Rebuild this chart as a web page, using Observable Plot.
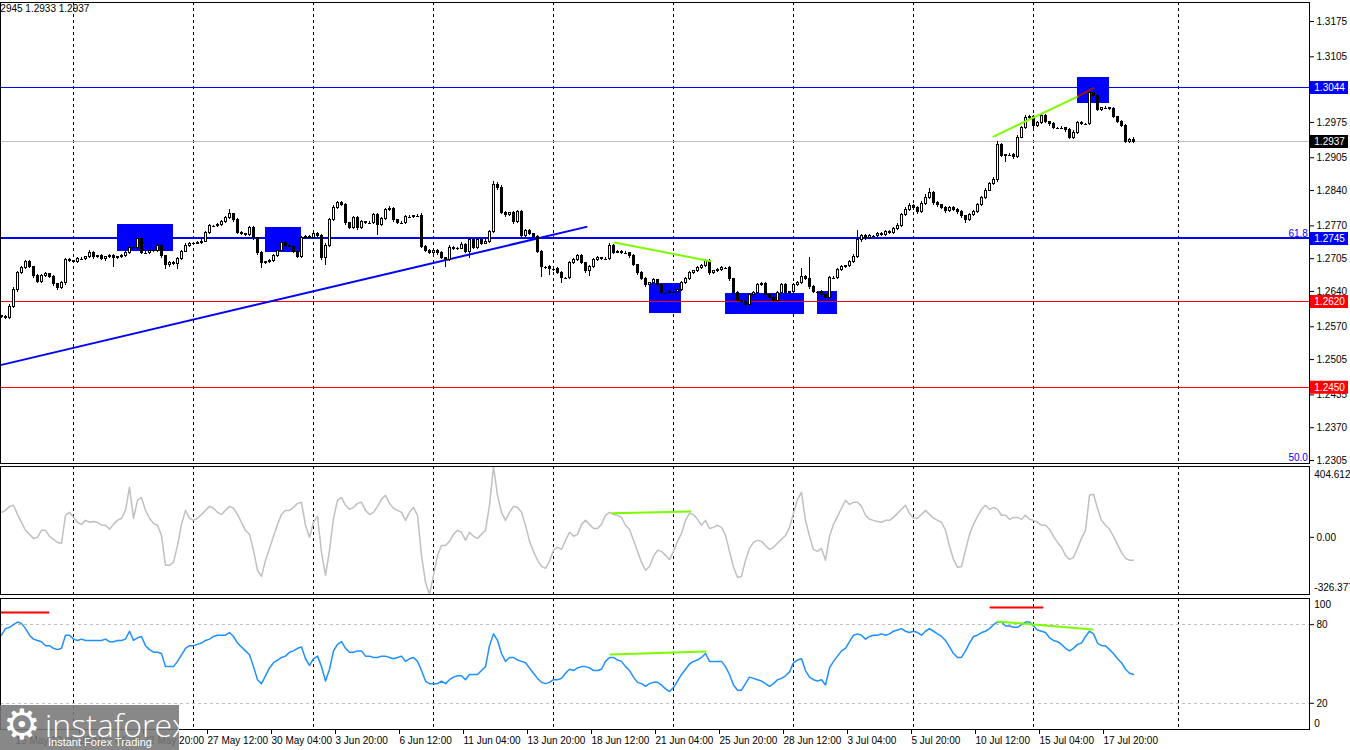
<!DOCTYPE html>
<html><head><meta charset="utf-8">
<script src="https://cdn.jsdelivr.net/npm/d3@7"></script>
<script src="https://cdn.jsdelivr.net/npm/@observablehq/plot@0.6"></script>
<style>
html,body{margin:0;padding:0;background:#fff;}
body{width:1350px;height:750px;overflow:hidden;position:relative;font-family:"Liberation Sans",Arial,sans-serif;}
.panel{position:absolute;left:0;}
#hdr{position:absolute;left:-8px;top:3px;font-size:10px;color:#000;white-space:nowrap;}
#logo{position:absolute;left:0;top:705px;width:179px;height:45px;background:rgba(120,120,120,0.88);color:#fff;overflow:hidden;}
#logo .gear{position:absolute;left:3px;top:-5px;font-size:42px;line-height:50px;font-family:"DejaVu Sans";}
#logo .name{position:absolute;left:45px;top:-2px;font-size:32px;font-family:"Open Sans","Liberation Sans";font-weight:300;}
#logo .sub{position:absolute;left:48px;top:31px;font-size:11px;font-family:"Liberation Sans";}
</style></head><body>
<div id="main" class="panel" style="top:0px"></div>
<div id="cci" class="panel" style="top:465px"></div>
<div id="rsi" class="panel" style="top:596px"></div>
<div id="hdr">1.2945 1.2933 1.2937</div>
<div id="logo"><span class="gear">⚙</span><span class="name">instaforex</span><span class="sub">Instant Forex Trading</span></div>
<script>
// ---- price data (pips above 1.2000), H4 bars ----
const BASE = 1.2;
const firstOpenPips = 591;
const closePips = [
589,587,610,642,676,686,698,688,670,658,670,674,668,654,646,656,702,700,698,704,
704,708,717,708,710,704,708,710,706,708,710,716,727,727,743,716,716,721,721,731,
710,692,696,694,704,719,731,735,735,737,739,755,769,769,771,777,785,793,781,755,
753,751,765,745,716,696,698,700,710,721,737,731,729,719,708,745,747,745,753,749,
706,731,781,805,815,811,775,765,785,765,777,775,775,791,771,783,801,803,781,775,
775,787,787,789,789,729,721,716,721,716,706,702,727,725,725,733,719,741,727,741,
735,739,757,850,846,795,791,795,777,797,749,759,753,747,719,688,688,684,684,676,
666,666,696,702,710,696,680,688,702,706,704,704,731,717,719,716,716,710,692,676,
664,652,656,662,652,636,636,638,638,642,656,664,676,680,686,690,700,676,680,682,
686,686,664,636,622,620,614,632,636,652,654,632,628,622,636,652,636,638,652,656,
668,664,648,638,638,632,628,666,666,682,688,690,698,708,741,749,745,749,749,753,
751,757,755,763,769,791,801,809,805,797,813,826,836,815,811,805,799,805,801,797,
789,781,791,797,811,825,840,852,860,930,908,910,910,906,945,963,983,985,967,973,
987,975,971,963,963,963,959,945,955,973,971,971,1033,1027,999,1003,1003,1001,985,975,
967,937,941,937];
const upWick = [
2,3,4,6,4,3,4,3,2,3,3,4,2,3,2,3,4,3,2,3,
3,2,4,3,2,3,2,3,4,2,3,3,8,2,10,6,3,2,3,4,
3,2,3,4,3,3,4,2,3,2,3,4,3,2,3,4,3,10,2,3,
3,2,4,3,2,3,2,3,4,3,3,4,2,3,2,4,3,3,4,3,
3,4,4,5,4,3,3,2,4,3,3,2,3,4,3,3,4,5,3,2,
3,4,3,2,3,6,3,2,3,2,3,2,4,3,2,4,3,6,3,4,
3,3,4,8,5,3,3,2,4,3,3,4,3,2,3,3,2,3,2,3,
3,2,4,3,4,3,2,3,4,3,2,3,4,3,2,3,3,2,3,2,
3,3,2,3,2,3,2,3,3,2,4,3,3,2,3,3,4,3,2,3,
3,2,3,2,3,2,3,4,3,4,3,3,2,3,4,3,3,2,4,3,
18,3,44,3,2,3,2,4,3,4,3,2,4,5,20,4,3,3,2,4,
3,4,3,4,5,4,5,6,3,3,5,6,8,3,3,2,3,4,3,3,
3,2,4,3,4,4,5,4,5,8,3,2,3,3,4,4,5,3,3,3,
4,3,2,3,2,3,2,3,3,4,3,2,11,4,3,2,3,2,3,2,
3,3,2,4];
const downWick = [
3,2,3,3,4,3,2,3,4,3,2,3,3,4,5,3,4,3,3,2,
3,3,2,4,3,3,4,3,18,3,3,2,3,3,4,3,3,2,3,3,
4,8,4,3,10,3,2,3,3,2,3,2,3,3,2,3,2,3,4,3,
3,3,2,4,4,10,3,3,2,3,2,3,3,4,3,2,3,3,2,3,
4,14,3,2,3,3,4,3,3,4,3,3,2,3,20,3,2,3,4,3,
3,2,3,3,2,3,4,3,3,4,3,14,3,3,3,2,4,14,3,3,
3,2,3,3,6,3,4,3,4,3,4,3,3,3,4,20,4,12,4,3,
10,3,3,3,2,3,4,10,3,2,3,3,3,3,2,3,3,4,3,4,
3,4,3,3,4,4,3,3,3,3,2,3,2,3,2,3,2,4,3,3,
2,3,4,4,3,4,8,4,3,3,2,4,3,4,3,2,4,3,3,2,
3,3,4,3,3,4,6,4,3,3,2,3,3,2,3,3,4,3,3,2,
3,2,3,3,2,3,3,3,4,4,3,2,3,4,4,3,4,3,3,4,
4,6,3,3,2,3,3,2,3,4,3,12,3,4,3,2,3,3,4,3,
3,3,4,3,3,3,3,4,3,3,3,3,3,4,3,3,3,3,3,3,
3,3,3,4];
// ---- CCI ----
const cciValues = [
143,154,177,183,131,86,40,17,-6,0,40,40,6,-11,-29,-34,126,143,114,86,
74,97,86,91,86,69,69,46,74,97,109,154,286,109,211,228,154,109,80,69,
11,-160,-160,-143,-46,74,154,109,97,109,131,154,177,166,143,131,154,177,166,131,
86,40,17,-74,-188,-223,-131,-63,6,74,131,154,154,171,194,200,69,0,86,120,
-86,-217,-74,109,211,228,183,160,171,194,200,154,131,143,177,217,240,194,166,154,
143,97,143,171,126,-103,-257,-326.3775,-217,-103,-46,-46,-23,17,40,29,-17,29,6,-6,
17,40,183,404.6122,240,143,97,143,177,171,143,69,-23,-80,-131,-166,-177,-137,-74,-57,
-69,-17,29,6,17,74,97,74,51,51,74,126,143,131,126,114,69,46,-17,-80,
-143,-188,-166,-109,-74,-80,-103,-126,-80,-23,23,97,137,131,103,69,97,51,57,69,
57,11,-80,-171,-228,-223,-131,-63,-29,-17,-23,-46,-69,-57,-34,-11,11,57,137,217,
257,97,6,-69,-80,-63,-131,6,74,120,166,211,188,200,200,177,126,103,97,91,
86,97,97,114,137,160,183,137,109,109,131,154,131,109,97,86,40,-51,-126,-171,
-166,-74,17,74,120,160,183,160,171,160,126,126,103,114,114,103,126,103,97,86,
69,69,46,6,-29,-57,-103,-126,-114,-63,-6,40,240,246,166,97,69,46,6,-40,
-86,-120,-131,-131];
// ---- RSI ----
const rsiValues = [
72,77,78,80,82,81,77,72,69,68,67,64,64,62,61,62,72,72,69,68,
69,68,68,68,68,68,69,67,67,68,68,69,75,68,70,71,64,61,59,59,
58,48,48,48,52,57,62,64,64,65,66,68,69,71,72,72,72,74,71,66,
63,60,57,48,38,35,41,47,51,53,55,56,59,60,62,63,54,49,54,56,
48,37,46,60,65,67,62,59,59,60,60,56,56,55,55,56,56,55,54,55,
56,52,54,55,52,45,37,35,35,35,37,35,38,40,41,41,38,42,42,42,
45,48,64,73,68,58,52,55,55,53,52,51,47,43,39,36,35,36,38,38,
39,43,46,45,47,48,48,47,45,45,46,52,55,55,53,52,48,45,40,36,
35,33,35,36,36,34,31,29,32,37,42,46,50,52,53,55,58,52,52,52,
52,48,42,34,30,30,35,40,39,38,37,35,33,35,38,39,41,44,51,53,
54,45,40,38,37,38,34,47,52,56,60,62,67,72,73,72,69,71,72,72,
73,72,73,75,76,77,75,74,75,74,72,75,77,75,73,71,68,63,58,55,
55,60,66,71,72,74,75,77,80,82,82,79,79,78,78,80,82,82,79,76,
75,74,70,68,67,65,62,60,62,65,66,71,75,73,66,64,64,61,58,54,
51,46,43,42];
// ---- axis ticks / labels ----
const timeTickBars = [3,19,35,51,67,83,99,115,131,147,163,179,195,211,227,243,259,275];
const timeTickLabels = ["15 May 12:00","20 May 04:00","22 May 20:00","27 May 12:00","30 May 04:00","3 Jun 20:00","6 Jun 12:00","11 Jun 04:00","13 Jun 20:00","18 Jun 12:00","21 Jun 04:00","25 Jun 20:00","28 Jun 12:00","3 Jul 04:00","5 Jul 20:00","10 Jul 12:00","15 Jul 04:00","17 Jul 20:00"];
const gridBars = [18,48,78,108,138,168,198,228,258,294.25];
const priceTicks = [1.3175,1.3105,1.3040,1.2975,1.2905,1.2840,1.2770,1.2705,1.2640,1.2570,1.2505,1.2435,1.2370,1.2305];
const cciLabels = [404.6122, 0, -326.3775];
const rsiLevels = [80, 20];
const rsiLabelsEnds = [100, 0];
// ---- annotations ----
const levelLines = [
  {v:1.3044, color:"#0000FF", w:1, tag:"#0000FF"},
  {v:1.2937, color:"#C0C0C0", w:1, tag:"#000000"},
  {v:1.2745, color:"#0000FF", w:2, tag:"#0000FF"},
  {v:1.2620, color:"#FF0000", w:1, tag:"#FF0000"},
  {v:1.2450, color:"#FF0000", w:1, tag:"#FF0000"}];
const fibTexts = [{v:1.2745, t:"61.8"}, {v:1.2300, t:"50.0"}];
const zones = [
  {b0:29, b1:43, p0:1.2719, p1:1.2773},
  {b0:66, b1:75, p0:1.2717, p1:1.2767},
  {b0:162, b1:170, p0:1.2597, p1:1.2656},
  {b0:181, b1:200.75, p0:1.2595, p1:1.2636},
  {b0:204, b1:209, p0:1.2595, p1:1.2640},
  {b0:269, b1:277, p0:1.3013, p1:1.3064}];
const trendLine = [{i:-0.25, p:1.2494}, {i:146.25, p:1.2768}];
const greenMain = [
  {s:1, i:153.25, p:1.2737}, {s:1, i:177.25, p:1.2700},
  {s:2, i:248, p:1.2947}, {s:2, i:269.25, p:1.3027}];
const redMain = [{i:269.25, p:1.3027}, {i:273, p:1.3043}];
const greenCci = [{i:152.75, v:137}, {i:172.25, v:148}];
const greenRsi = [
  {s:1, i:152.25, v:57.3}, {s:1, i:176, v:59.5},
  {s:2, i:249, v:82.4}, {s:2, i:272.75, v:76.3}];
const redRsi = [
  {s:1, i:-0.25, v:89.3}, {s:1, i:11.75, v:89.3},
  {s:2, i:247.25, v:93.1}, {s:2, i:260.25, v:93.1}];

// ---- build table ----
const candles = closePips.map((c, i) => {
  const o = i === 0 ? firstOpenPips : closePips[i - 1];
  return {i, o: BASE + o / 1e4, c: BASE + c / 1e4,
    h: BASE + (Math.max(o, c) + upWick[i]) / 1e4,
    l: BASE + (Math.min(o, c) - downWick[i]) / 1e4, doji: o === c};
});
const bodies = candles.filter(d => !d.doji);
const dojis = candles.filter(d => d.doji);
const labelMap = new Map(timeTickBars.map((b, k) => [b, timeTickLabels[k]]));

const FONT = '"Liberation Sans", Arial, sans-serif';
const common = {width: 1350, marginLeft: 0, marginRight: 41,
  style: {fontFamily: FONT, fontSize: "10px", background: "transparent", overflow: "visible", color: "#000"}};
const xOpt = {domain: [-0.25, 327], axis: null, label: null};
const grid = () => Plot.ruleX(gridBars, {stroke: "#000", strokeDasharray: "3,3", strokeWidth: 1, shapeRendering: "crispEdges"});
const TAG0 = 327.25, TAG1 = 336.75, TAGTXT = 327.45;

const main = Plot.plot({
  ...common, height: 464, marginTop: 2, marginBottom: 1,
  x: xOpt, y: {domain: [1.229905, 1.321265], axis: null, label: null},
  marks: [
    grid(),
    Plot.rect(zones, {x1: "b0", x2: "b1", y1: "p0", y2: "p1", fill: "#0000FF", shapeRendering: "crispEdges"}),
    ...levelLines.map(L => Plot.ruleY([L.v], {stroke: L.color, strokeWidth: L.w, shapeRendering: "crispEdges"})),
    Plot.line(trendLine, {x: "i", y: "p", stroke: "#0000FF", strokeWidth: 2}),
    Plot.ruleX(candles, {x: "i", y1: "l", y2: "h", stroke: "#000", strokeWidth: 1, shapeRendering: "crispEdges"}),
    Plot.rect(bodies, {x1: d => d.i - 0.25, x2: d => d.i + 0.25, y1: "o", y2: "c",
      fill: d => d.c > d.o ? "white" : "black", stroke: "#000", strokeWidth: 1, shapeRendering: "crispEdges"}),
    Plot.ruleY(dojis, {y: "c", x1: d => d.i - 0.375, x2: d => d.i + 0.375, stroke: "#000", shapeRendering: "crispEdges"}),
    Plot.line(greenMain, {x: "i", y: "p", z: "s", stroke: "#7CFC00", strokeWidth: 2}),
    Plot.line(redMain, {x: "i", y: "p", stroke: "#A01010", strokeWidth: 2}),
    Plot.text(fibTexts, {x: 326.6, y: "v", text: "t", textAnchor: "end", dy: -5, fill: "#0000FF", fontSize: 10}),
    Plot.frame({stroke: "#000"}),
    Plot.axisY(priceTicks, {anchor: "right", label: null, tickSize: 4, tickPadding: 3, tickFormat: d => d.toFixed(4), fontSize: 10}),
    Plot.ruleY(levelLines, {y: "v", x1: TAG0, x2: TAG1, stroke: d => d.tag, strokeWidth: 13}),
    Plot.text(levelLines, {x: TAGTXT, y: "v", text: d => d.v.toFixed(4), textAnchor: "start", dx: 3, fill: "white", fontSize: 10})
  ]
});
document.getElementById("main").append(main);

const cciPlot = Plot.plot({
  ...common, height: 130, marginTop: 1, marginBottom: 1,
  x: xOpt, y: {domain: [-326.3775, 404.6122], axis: null, label: null},
  marks: [
    grid(),
    Plot.line(cciValues, {x: (d, i) => i, y: d => d, stroke: "#C0C0C0", strokeWidth: 1.5}),
    Plot.line(greenCci, {x: "i", y: "v", stroke: "#7CFC00", strokeWidth: 2}),
    Plot.frame({stroke: "#000"}),
    Plot.axisY([cciLabels[1]], {anchor: "right", label: null, tickSize: 4, tickPadding: 3, tickFormat: d => d.toFixed(2), fontSize: 10}),
    Plot.text([cciLabels[0]], {x: TAGTXT, y: d => d, text: d => d.toFixed(4), textAnchor: "start", dx: 3, dy: 8, fontSize: 10}),
    Plot.text([cciLabels[2]], {x: TAGTXT, y: d => d, text: d => d.toFixed(4), textAnchor: "start", dx: 3, dy: -7, fontSize: 10})
  ]
});
document.getElementById("cci").append(cciPlot);

const rsiPlot = Plot.plot({
  ...common, height: 154, marginTop: 2, marginBottom: 21,
  x: xOpt, y: {domain: [0, 100], axis: null, label: null},
  marks: [
    grid(),
    Plot.ruleY(rsiLevels, {stroke: "#C0C0C0", strokeDasharray: "3,3", shapeRendering: "crispEdges"}),
    Plot.line(rsiValues, {x: (d, i) => i, y: d => d, stroke: "#1E90FF", strokeWidth: 1.5}),
    Plot.line(greenRsi, {x: "i", y: "v", z: "s", stroke: "#7CFC00", strokeWidth: 2}),
    Plot.line(redRsi, {x: "i", y: "v", z: "s", stroke: "#FF0000", strokeWidth: 2}),
    Plot.frame({stroke: "#000"}),
    Plot.axisY(rsiLevels, {anchor: "right", label: null, tickSize: 4, tickPadding: 3, tickFormat: d => String(d), fontSize: 10}),
    Plot.text([rsiLabelsEnds[0]], {x: TAGTXT, y: d => d, text: d => String(d), textAnchor: "start", dx: 3, dy: 6, fontSize: 10}),
    Plot.text([rsiLabelsEnds[1]], {x: TAGTXT, y: d => d, text: d => String(d), textAnchor: "start", dx: 3, dy: -6, fontSize: 10}),
    Plot.axisX(timeTickBars, {anchor: "bottom", label: null, tickSize: 5, tickPadding: 2, tickFormat: d => labelMap.get(d), textAnchor: "start", dx: 2, fontSize: 10})
  ]
});
document.getElementById("rsi").append(rsiPlot);
</script>
</body></html>
